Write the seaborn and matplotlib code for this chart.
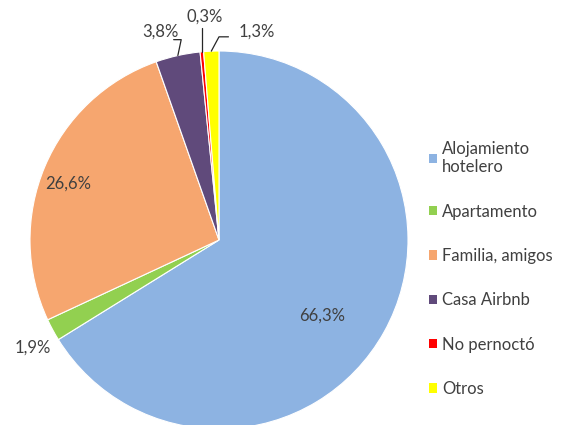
import matplotlib
matplotlib.use("Agg")
import matplotlib.pyplot as plt
import seaborn as sns
import numpy as np

# datos del gráfico
categorias = ["Alojamiento\nhotelero", "Apartamento", "Familia, amigos", "Casa Airbnb", "No pernoctó", "Otros"]
porcentajes = [66.3, 1.9, 26.6, 3.8, 0.3, 1.3]
etiquetas = ["66,3%", "1,9%", "26,6%", "3,8%", "0,3%", "1,3%"]
colores = ["#8DB3E2", "#92D050", "#F6A66F", "#604A7B", "#FF0000", "#FFFF00"]

sns.set_theme(style="white")
plt.rcParams["font.family"] = ["Lato", "DejaVu Sans"]
texto = "#404040"

fig = plt.figure(figsize=(5.76, 4.25), dpi=100)
ax = fig.add_axes([30 / 576, -4 / 425, 378 / 576, 378 / 425])

wedges, _ = ax.pie(porcentajes, colors=colores, startangle=90, counterclock=False,
                   wedgeprops=dict(linewidth=0.8, edgecolor="white"))
ax.set_aspect("equal")
ax.set_xlim(-1, 1)
ax.set_ylim(-1, 1)

# posición de las etiquetas (coordenadas del eje)
pos_etiquetas = [(0.545, -0.40), (-0.985, -0.57), (-0.80, 0.30), (-0.31, 1.10), (-0.074, 1.18), (0.20, 1.10)]
for i, (w, lab) in enumerate(zip(wedges, etiquetas)):
    x, y = pos_etiquetas[i]
    ax.text(x, y, lab, ha="center", va="center", fontsize=12, color=texto, clip_on=False)

# líneas guía para las porciones pequeñas
def borde(w):
    ang = np.deg2rad((w.theta1 + w.theta2) / 2)
    return np.cos(ang), np.sin(ang)

bx, by = borde(wedges[3])
ax.plot([-0.24, -0.20, bx], [1.06, 1.06, by], color="#262626", lw=0.9, clip_on=False)
bx, by = borde(wedges[4])
ax.plot([bx, bx], [1.12, by], color="#262626", lw=0.9, clip_on=False)
bx, by = borde(wedges[5])
ax.plot([0.05, 0.0, bx], [1.075, 1.075, by], color="#262626", lw=0.9, clip_on=False)

leg = fig.legend(wedges, categorias, loc="upper left", bbox_to_anchor=(422 / 576, 1 - 134 / 425),
                 frameon=False, fontsize=12, labelcolor=texto, handlelength=0.5, handleheight=0.5,
                 handletextpad=0.3, labelspacing=1.7, borderaxespad=0)
for h in leg.legend_handles:
    h.set_edgecolor("none")

fig.savefig("out.png", dpi=100)
